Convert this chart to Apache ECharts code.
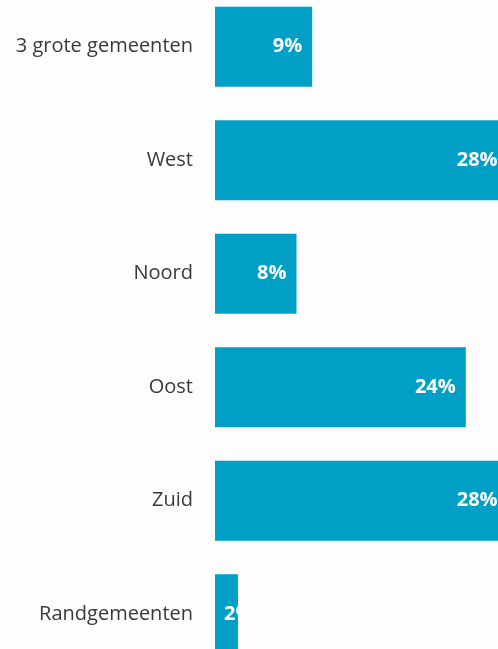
<!DOCTYPE html>
<html lang="nl">
<head>
    <meta charset="UTF-8">
    <title>Regio's</title>
    <script src="https://cdn.jsdelivr.net/npm/echarts@6/dist/echarts.min.js"></script>
    <style>
        html, body { margin: 0; padding: 0; background: #fdfdfd; }
        #main { width: 498px; height: 649px; }
    </style>
</head>
<body>
<div id="main"></div>
<script>
    // regio's van boven naar beneden
    var categories = ['3 grote gemeenten', 'West', 'Noord', 'Oost', 'Zuid', 'Randgemeenten'];
    var values = [9.3, 28, 7.8, 24, 28, 2.2];

    var myChart = echarts.init(document.getElementById('main'));

    var seriesData = values.map(function (v) {
        var item = { value: v };
        // te smalle balk: label links in de balk, mag eruit steken
        if (v < 5) {
            item.label = { position: 'insideLeft', distance: 9, overflow: 'none', width: 60 };
        }
        return item;
    });

    var option = {
        backgroundColor: '#fdfdfd',
        animation: false,
        grid: {
            left: 215,
            top: -10,
            width: 313.5,
            height: 681,
            containLabel: false,
            outerBoundsMode: 'none'
        },
        xAxis: {
            type: 'value',
            min: 0,
            max: 30,
            show: false
        },
        yAxis: {
            type: 'category',
            data: categories,
            inverse: true,
            axisLine: { show: false },
            axisTick: { show: false },
            axisLabel: {
                margin: 22,
                color: '#3a3a3a',
                fontFamily: 'Open Sans',
                fontSize: 20
            }
        },
        series: [{
            type: 'bar',
            data: seriesData,
            barCategoryGap: '29.5%',
            itemStyle: { color: '#00a0c6' },
            label: {
                show: true,
                position: 'insideRight',
                distance: 10,
                color: '#ffffff',
                fontFamily: 'Open Sans',
                fontWeight: 'bold',
                fontSize: 20,
                formatter: function (p) { return Math.round(p.value) + '%'; }
            }
        }]
    };

    myChart.setOption(option, true);
</script>
</body>
</html>
